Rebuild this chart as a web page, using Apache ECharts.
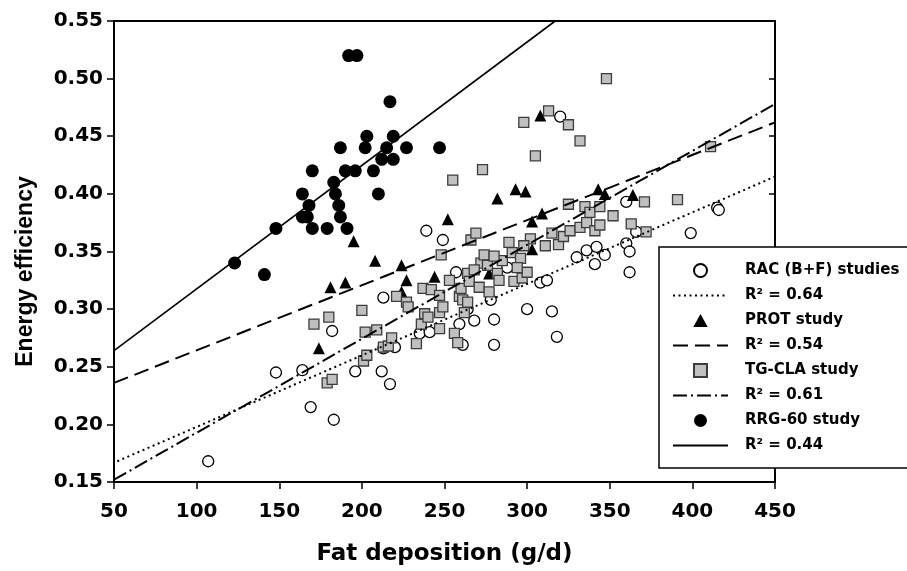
<!DOCTYPE html>
<html><head><meta charset="utf-8">
<script src="https://cdn.jsdelivr.net/npm/echarts@6/dist/echarts.min.js"></script>
<style>html,body{margin:0;padding:0;background:#fff}#c{width:907px;height:571px}</style>
</head><body><div id="c"></div>
<script>
// RAC (B+F) studies - open circles
const racX = [107,148,164,169,183,182,196,212,213,217,220,213,235,241,239,249,257,259,261,264,268,278,280,280,288,300,308,312,315,318,320,330,336,341,342,347,360,360,362,362,366,399,415,416];
const racY = [0.168,0.245,0.247,0.215,0.204,0.281,0.246,0.246,0.310,0.235,0.267,0.266,0.279,0.280,0.368,0.360,0.332,0.287,0.269,0.300,0.290,0.308,0.291,0.269,0.336,0.300,0.323,0.325,0.298,0.276,0.467,0.345,0.351,0.339,0.354,0.347,0.393,0.357,0.350,0.332,0.367,0.366,0.388,0.386];
// PROT study - triangles
const protX = [174,181,190,195,208,224,224,227,244,252,277,282,293,299,303,303,309,308,343,347,364];
const protY = [0.266,0.319,0.323,0.359,0.342,0.338,0.315,0.325,0.328,0.378,0.331,0.396,0.404,0.402,0.352,0.376,0.383,0.468,0.404,0.400,0.399];
// TG-CLA study - grey squares
const tgX = [171,180,179,182,200,201,202,203,209,213,216,218,221,227,228,233,236,237,238,240,242,247,247,247,249,248,253,255,256,258,259,260,261,264,264,265,266,269,271,272,274,273,276,277,282,283,285,289,291,292,296,297,298,300,302,305,311,313,315,319,322,325,325,326,332,332,335,336,338,341,344,344,348,352,363,371,372,391,411,268,280,294,262,298];
const tgY = [0.287,0.293,0.236,0.239,0.299,0.255,0.280,0.260,0.282,0.267,0.268,0.275,0.311,0.306,0.302,0.270,0.287,0.318,0.296,0.293,0.317,0.312,0.297,0.283,0.302,0.347,0.325,0.412,0.279,0.271,0.311,0.318,0.308,0.306,0.331,0.324,0.360,0.366,0.319,0.340,0.347,0.421,0.338,0.315,0.331,0.325,0.342,0.358,0.349,0.324,0.344,0.327,0.462,0.332,0.361,0.433,0.355,0.472,0.366,0.356,0.363,0.391,0.460,0.368,0.371,0.446,0.389,0.375,0.384,0.368,0.373,0.389,0.500,0.381,0.374,0.393,0.367,0.395,0.441,0.334,0.346,0.336,0.297,0.355];
// RRG-60 study - black circles
const rrgX = [123,141,148,164,164,167,168,170,170,179,183,184,186,187,187,190,191,192,196,197,202,203,207,210,212,215,217,219,219,227,247];
const rrgY = [0.34,0.33,0.37,0.40,0.38,0.38,0.39,0.42,0.37,0.37,0.41,0.40,0.39,0.38,0.44,0.42,0.37,0.52,0.42,0.52,0.44,0.45,0.42,0.40,0.43,0.44,0.48,0.45,0.43,0.44,0.44];
// regression lines (end points)
const racFitX = [52,450],  racFitY = [0.168,0.415];
const protFitX = [50,450], protFitY = [0.236,0.462];
const tgFitX = [50,450],   tgFitY = [0.152,0.478];
const rrgFitX = [50,317],  rrgFitY = [0.264,0.55];
// axis ticks
const xTicks = {min:50, max:450, step:50};
const yTicks = {min:0.15, max:0.55, step:0.05};
const legendNames = ['RAC (B+F) studies','R\u00b2 = 0.64','PROT study','R\u00b2 = 0.54','TG-CLA study','R\u00b2 = 0.61','RRG-60 study','R\u00b2 = 0.44'];

const zip = (xs, ys) => xs.map((x,i)=>[x, ys[i]]);
const chart = echarts.init(document.getElementById('c'), null, {renderer:'canvas'});
const tickFont = {fontFamily:'DejaVu Sans', fontWeight:'bold', fontSize:20, color:'#000'};
const axLine = {show:true, lineStyle:{color:'#000', width:2}};
const fitLine = (name, xs, ys, type, width) => ({
  name, type:'line', data: zip(xs, ys), symbol:'none', showSymbol:false, z:5,
  itemStyle:{color:'#000'},
  lineStyle:{color:'#000', width, type}, silent:true, animation:false
});
const legendData = legendNames.map((n, i) => {
  if (i % 2 === 1) return {name:n, itemStyle:{opacity:0}};
  if (i === 2) return {name:n, icon:'path://M5,0L10,9L0,9Z'};
  if (i === 4) return {name:n, icon:'path://M0,0L10,0L10,10L0,10Z'};
  return {name:n};
});
chart.setOption({
  animation:false,
  backgroundColor:'#fff',
  grid:{left:114, right:132, top:21, bottom:88, containLabel:false},
  xAxis:[{
    type:'value', min:xTicks.min, max:xTicks.max, interval:xTicks.step,
    axisLine:axLine, axisTick:{show:true, length:7, lineStyle:{color:'#000', width:1.5}},
    splitLine:{show:false},
    axisLabel:Object.assign({margin:20}, tickFont),
    name:'Fat deposition (g/d)', nameLocation:'middle', nameGap:61,
    nameTextStyle:{fontFamily:'DejaVu Sans', fontWeight:'bold', fontSize:23, color:'#000'}
  },{
    type:'value', position:'top', min:xTicks.min, max:xTicks.max, interval:xTicks.step,
    axisLine:axLine, axisTick:{show:false}, axisLabel:{show:false}, splitLine:{show:false}
  }],
  yAxis:[{
    type:'value', min:yTicks.min, max:yTicks.max, interval:yTicks.step,
    axisLine:axLine, axisTick:{show:true, length:7, lineStyle:{color:'#000', width:1.5}},
    splitLine:{show:false},
    axisLabel:Object.assign({margin:11, formatter:v=>v.toFixed(2)}, tickFont),
    name:'Energy efficiency', nameLocation:'middle', nameGap:77, nameRotate:90,
    nameTextStyle:{fontFamily:'Liberation Sans', fontWeight:'bold', fontSize:23, color:'#000', padding:[0,40,0,0]}
  },{
    type:'value', position:'right', min:yTicks.min, max:yTicks.max, interval:yTicks.step,
    axisLine:axLine, axisTick:{show:true, inside:true, length:6, lineStyle:{color:'#000', width:1.5}},
    axisLabel:{show:false}, splitLine:{show:false}
  }],
  legend:{
    data:legendData, orient:'vertical', left:659, top:247,
    padding:[16,40,15,13], itemWidth:55, itemHeight:13, itemGap:10,
    backgroundColor:'#fff', borderColor:'#000', borderWidth:1.5, borderRadius:0,
    selectedMode:false, symbolKeepAspect:true,
    textStyle:{fontFamily:'DejaVu Sans', fontWeight:'bold', fontSize:15, lineHeight:15, color:'#000', padding:[0,0,0,12]}
  },
  series:[
    {name:legendNames[0], type:'scatter', data:zip(racX, racY), symbol:'circle', symbolSize:11, z:2,
     itemStyle:{color:'#fff', borderColor:'#000', borderWidth:1.3, opacity:1}},
    {name:legendNames[2], type:'scatter', data:zip(protX, protY), symbol:'triangle', symbolSize:12, z:3,
     itemStyle:{color:'#000', opacity:1}},
    {name:legendNames[4], type:'scatter', data:zip(tgX, tgY), symbol:'rect', symbolSize:10, z:4,
     itemStyle:{color:'#c0c0c0', borderColor:'#3c3c3c', borderWidth:1.3, opacity:1}},
    {name:legendNames[6], type:'scatter', data:zip(rrgX, rrgY), symbol:'circle', symbolSize:13, z:4,
     itemStyle:{color:'#000', opacity:1}},
    fitLine(legendNames[1], racFitX, racFitY, [2,3.5], 2),
    fitLine(legendNames[3], protFitX, protFitY, [15,7], 2),
    fitLine(legendNames[5], tgFitX, tgFitY, [14,4,2,4], 2),
    fitLine(legendNames[7], rrgFitX, rrgFitY, 'solid', 1.6)
  ]
});
</script></body></html>
